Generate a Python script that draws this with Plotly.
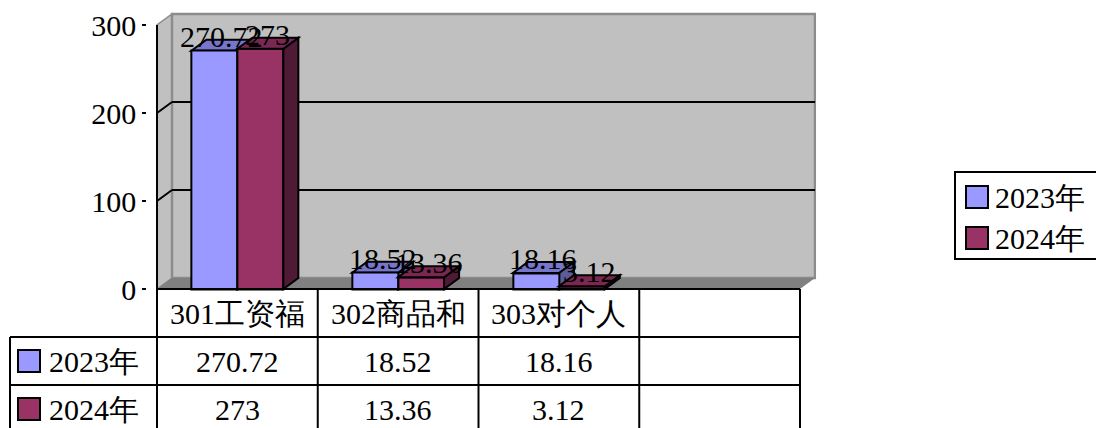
import plotly.graph_objects as go

# ---------------- data ----------------
categories = ["301工资福", "302商品和", "303对个人", ""]
series_names = ["2023年", "2024年"]
values_2023 = [270.72, 18.52, 18.16, None]
values_2024 = [273, 13.36, 3.12, None]
y_ticks = [0, 100, 200, 300]

# ---------------- styling / geometry ----------------
W, H = 1096, 428
FONT = "Liberation Serif"
FS = 30
col_front = ["#9999FF", "#993366"]
col_top = ["#7676CC", "#7A2852"]
col_side = ["#5C5C99", "#4E1A35"]
WALL = "#C0C0C0"
FLOOR = "#808080"

X0 = 157.0       # pixel of category -0.5 (front plane)
CW = 160.75      # pixels per category
Y0 = 289.0       # pixel of value 0 (front plane)
KY = 0.88        # pixels per value unit
DDX = 15.0 / CW  # depth offset in category units
DDY = 11.0 / KY  # depth offset in value units
BW = 0.286       # bar width in category units
XR = [-0.56, 3.6]
YR = [-3, 320]


def px(xp):
    return xp / W


def py(yp):
    return (H - yp) / H


def cat_px(c):
    return X0 + (c + 0.5) * CW


xdom = [px(X0 + (XR[0] + 0.5) * CW), px(X0 + (XR[1] + 0.5) * CW)]
ydom = [py(Y0 - YR[0] * KY), py(Y0 - YR[1] * KY)]

n = len(categories)
xs = list(range(n))
series = [values_2023, values_2024]
offsets = [-BW, 0.0]

fig = go.Figure()
for s, (name, vals) in enumerate(zip(series_names, series)):
    fig.add_trace(go.Bar(
        x=xs, y=vals, name=name, width=BW, offset=offsets[s],
        marker=dict(color=col_front[s], line=dict(color="black", width=2)),
        showlegend=False, hoverinfo="skip",
    ))

shapes = []
L = -0.5
R = n - 0.5
top = y_ticks[-1]
# side wall
shapes.append(dict(type="path", xref="x", yref="y", layer="below",
                   path=f"M{L},0 L{L+DDX},{DDY} L{L+DDX},{top+DDY} L{L},{top} Z",
                   fillcolor=WALL, line=dict(color="#8C8C8C", width=1.5)))
# back wall
shapes.append(dict(type="rect", xref="x", yref="y", layer="below",
                   x0=L + DDX, x1=R + DDX, y0=DDY, y1=top + DDY,
                   fillcolor=WALL, line=dict(color="#8C8C8C", width=2.5)))
# floor
shapes.append(dict(type="path", xref="x", yref="y", layer="below",
                   path=f"M{L},0 L{R},0 L{R+DDX},{DDY} L{L+DDX},{DDY} Z",
                   fillcolor=FLOOR, line=dict(width=0)))
# gridlines on back wall + side wall
for v in y_ticks[1:-1]:
    shapes.append(dict(type="line", xref="x", yref="y", layer="below",
                       x0=L + DDX, x1=R + DDX, y0=v + DDY, y1=v + DDY,
                       line=dict(color="black", width=2)))
    shapes.append(dict(type="line", xref="x", yref="y", layer="below",
                       x0=L, x1=L + DDX, y0=v, y1=v + DDY,
                       line=dict(color="black", width=2)))

# 3D faces of bars (series in back drawn below the bar fronts)
for s, vals in enumerate(series):
    layer = "below" if s == 0 else "above"
    for i, v in enumerate(vals):
        if v is None:
            continue
        x0 = i + offsets[s]
        x1 = x0 + BW
        shapes.append(dict(type="path", xref="x", yref="y", layer=layer,
                           path=f"M{x1},0 L{x1},{v} L{x1+DDX},{v+DDY} L{x1+DDX},{DDY} Z",
                           fillcolor=col_side[s], line=dict(color="black", width=2)))
        shapes.append(dict(type="path", xref="x", yref="y", layer=layer,
                           path=f"M{x0},{v} L{x1},{v} L{x1+DDX},{v+DDY} L{x0+DDX},{v+DDY} Z",
                           fillcolor=col_top[s], line=dict(color="black", width=2)))

# value axis line
shapes.append(dict(type="line", xref="x", yref="y", x0=L, x1=L, y0=0, y1=top,
                   line=dict(color="black", width=2)))

# ---------------- data table ----------------
T_TOP, T_R1, T_R2, T_BOT = 289, 337, 385, 440
T_LEFT = 10
line_k = dict(color="black", width=2)
shapes.append(dict(type="line", xref="paper", yref="paper",
                   x0=px(cat_px(-0.5)), x1=px(cat_px(n - 0.5)), y0=py(T_TOP), y1=py(T_TOP), line=line_k))
for yy in (T_R1, T_R2):
    shapes.append(dict(type="line", xref="paper", yref="paper",
                       x0=px(T_LEFT), x1=px(cat_px(n - 0.5)), y0=py(yy), y1=py(yy), line=line_k))
for c in range(n + 1):
    xx = px(cat_px(c - 0.5))
    shapes.append(dict(type="line", xref="paper", yref="paper",
                       x0=xx, x1=xx, y0=py(T_TOP), y1=py(T_BOT), line=line_k))
shapes.append(dict(type="line", xref="paper", yref="paper",
                   x0=px(T_LEFT), x1=px(T_LEFT), y0=py(T_R1), y1=py(T_BOT), line=line_k))

annotations = []
txt_font = dict(family=FONT, size=FS, color="black")


def cell_text(x, ypix, text, xanchor="center"):
    return dict(xref="paper", yref="paper", x=x, y=py(ypix), text=text, showarrow=False,
                font=txt_font, xanchor=xanchor, yanchor="middle")


row_centers = [(T_R1 + T_R2) / 2, 409]
for i, cat in enumerate(categories):
    if cat:
        annotations.append(cell_text(px(cat_px(i)), (T_TOP + T_R1) / 2, cat))
for s, vals in enumerate(series):
    for i, v in enumerate(vals):
        if v is None:
            continue
        annotations.append(cell_text(px(cat_px(i)), row_centers[s], f"{v:g}"))
    yc = row_centers[s]
    shapes.append(dict(type="rect", xref="paper", yref="paper",
                       x0=px(18), x1=px(40), y0=py(yc - 11), y1=py(yc + 11),
                       fillcolor=col_front[s], line=dict(color="black", width=2)))
    annotations.append(cell_text(px(47), yc, series_names[s], xanchor="left"))

# data labels on bars
for s, vals in enumerate(series):
    for i, v in enumerate(vals):
        if v is None:
            continue
        annotations.append(dict(xref="x", yref="y", x=i + offsets[s] + BW / 2 + DDX / 2, y=v + DDY / 2,
                                text=f"{v:g}", showarrow=False, font=txt_font,
                                xanchor="center", yanchor="middle", yshift=9))

# ---------------- legend (drawn) ----------------
shapes.append(dict(type="rect", xref="paper", yref="paper",
                   x0=px(955), x1=px(1110), y0=py(172), y1=py(259),
                   fillcolor="white", line=dict(color="black", width=2)))
leg_y = [197, 238]
for s, name in enumerate(series_names):
    shapes.append(dict(type="rect", xref="paper", yref="paper",
                       x0=px(966), x1=px(988), y0=py(leg_y[s] - 11), y1=py(leg_y[s] + 11),
                       fillcolor=col_front[s], line=dict(color="black", width=2)))
    annotations.append(dict(xref="paper", yref="paper", x=px(993), y=py(leg_y[s]),
                            text=name, showarrow=False, font=txt_font,
                            xanchor="left", yanchor="middle"))

fig.update_layout(
    width=W, height=H,
    margin=dict(l=0, r=0, t=0, b=0, autoexpand=False),
    paper_bgcolor="white", plot_bgcolor="white",
    showlegend=False,
    bargap=0, barmode="overlay",
    xaxis=dict(domain=xdom, range=XR, visible=False, fixedrange=True),
    yaxis=dict(domain=ydom, range=YR, tickvals=y_ticks, ticktext=[str(t) for t in y_ticks],
               ticks="outside", ticklen=4, tickwidth=2, tickcolor="black",
               showgrid=False, zeroline=False, showline=False, automargin=False,
               tickfont=dict(family=FONT, size=FS, color="black"), fixedrange=True),
    shapes=shapes,
    annotations=annotations,
)

fig.write_html(
    "out.html",
    post_script="document.body.style.margin='0px';document.documentElement.style.overflow='hidden';",
    config={"displayModeBar": False},
)
